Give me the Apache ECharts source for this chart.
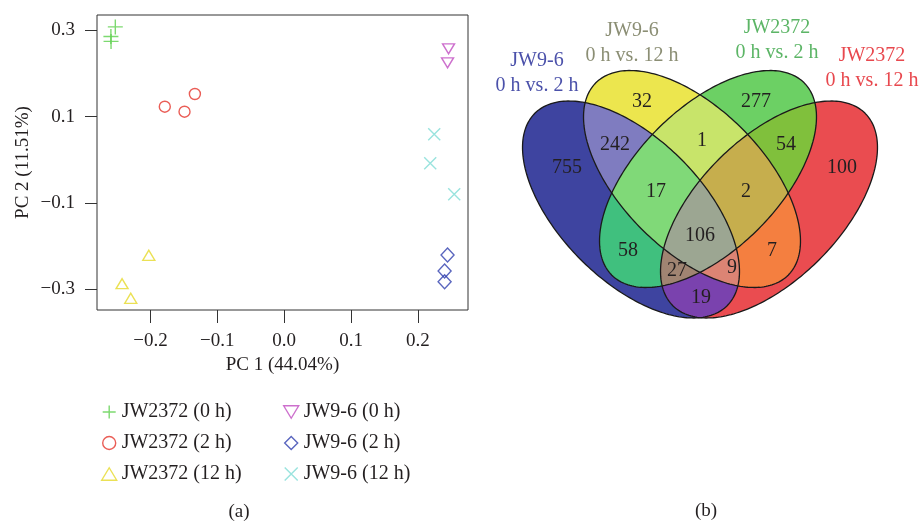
<!DOCTYPE html>
<html>
<head>
<meta charset="utf-8">
<script src="https://cdn.jsdelivr.net/npm/echarts@6/dist/echarts.min.js"></script>
<style>
    html, body { margin: 0; padding: 0; background: #fff; }
    #main { width: 921px; height: 521px; }
</style>
</head>
<body>
<div id="main"></div>
<script>
// ---- PCA scores (panel a) ----
var groupNames = ['JW2372 (0 h)', 'JW2372 (2 h)', 'JW2372 (12 h)', 'JW9-6 (0 h)', 'JW9-6 (2 h)', 'JW9-6 (12 h)'];
var pc1_jw2372_0h = [-0.2526, -0.2592, -0.2590];
var pc2_jw2372_0h = [0.3078, 0.2857, 0.2742];
var pc1_jw2372_2h = [-0.1786, -0.1491, -0.1336];
var pc2_jw2372_2h = [0.1230, 0.1114, 0.1524];
var pc1_jw2372_12h = [-0.2025, -0.2425, -0.2295];
var pc2_jw2372_12h = [-0.2212, -0.2870, -0.3208];
var pc1_jw96_0h = [0.2458, 0.2443];
var pc2_jw96_0h = [0.2571, 0.2247];
var pc1_jw96_2h = [0.2443, 0.2399, 0.2399];
var pc2_jw96_2h = [-0.2205, -0.2576, -0.2824];
var pc1_jw96_12h = [0.2244, 0.2184, 0.2543];
var pc2_jw96_12h = [0.0591, -0.0081, -0.0799];
var xTicks = [-0.2, -0.1, 0.0, 0.1, 0.2];
var yTicks = [-0.3, -0.1, 0.1, 0.3];

// ---- Venn (panel b) ----
var vennSetNames = ['JW9-6\n0 h vs. 2 h', 'JW9-6\n0 h vs. 12 h', 'JW2372\n0 h vs. 2 h', 'JW2372\n0 h vs. 12 h'];
// region = which sets (0..3) it belongs to; ordered from 1 set up to 4 sets
var vennRegionSets = [[0], [1], [2], [3], [0, 1], [1, 2], [2, 3], [0, 2], [1, 3], [0, 3],
    [0, 1, 2], [1, 2, 3], [0, 2, 3], [0, 1, 3], [0, 1, 2, 3]];
var vennCounts = [755, 32, 277, 100, 242, 1, 54, 58, 7, 19, 17, 2, 27, 9, 106];

// layout / style
var SERIF = 'Liberation Serif';
var INK = '#231f20';
var pcaColors = ['#5ccf4c', '#e5352c', '#e6da2a', '#c04cc0', '#2f3fae', '#80dcd6'];
var pcaSymbols = ['path://M0,6H12M6,0V12', 'circle', 'triangle', 'triangle', 'diamond', 'path://M0,0L10,10M10,0L0,10'];
var pcaSizes = [15, 11, [12, 10], [12, 10], [13, 14], 12];
var pcaRotate = [0, 0, 0, 180, 0, 0];
var legendIcons = ['path://M0,6H12M6,0V12', 'circle', 'path://M6,0L12,10L0,10Z', 'path://M0,0L12,0L6,10Z',
    'path://M6,0L12,6L6,12L0,6Z', 'path://M0,0L10,10M10,0L0,10'];

var ellipses = [
    {cx: 631, cy: 209.5, a: 136, b: 71, rot: 45},
    {cx: 692, cy: 179, a: 136, b: 71, rot: 45},
    {cx: 708, cy: 179, a: 136, b: 71, rot: -45},
    {cx: 769, cy: 209.5, a: 136, b: 71, rot: -45}
];
var regionColors = ['#3e44a0', '#ece64e', '#6cd064', '#ea4c50', '#7f7cc0', '#c8e46a', '#80c03c', '#40c07e',
    '#f47f40', '#7a42ae', '#80d978', '#c6ae4d', '#a08472', '#dc8474', '#9ca692'];
var regionLabelPos = [[567, 168], [642, 102], [756, 102], [842, 168], [615, 145], [702, 141], [786, 145],
    [628, 251], [772, 251], [701, 298], [656, 192], [746, 192], [677, 271], [732, 268], [700, 236]];
var setLabelPos = [[537, 73], [632, 43], [777, 40], [872, 68]];
var setLabelColors = ['#4b51aa', '#8b8e74', '#5cb566', '#e8484e'];

function fmt(v) {
    return v.toFixed(1).replace('-', '\u2212');
}

function ellipsePoints(e, n) {
    var pts = [], r = e.rot * Math.PI / 180, c = Math.cos(r), s = Math.sin(r);
    for (var i = 0; i < n; i++) {
        var t = 2 * Math.PI * i / n;
        var x = e.a * Math.cos(t), y = e.b * Math.sin(t);
        pts.push([e.cx + x * c - y * s, e.cy + x * s + y * c]);
    }
    return pts;
}

function area(p) {
    var s = 0;
    for (var i = 0; i < p.length; i++) {
        var q = p[(i + 1) % p.length];
        s += p[i][0] * q[1] - q[0] * p[i][1];
    }
    return s;
}

function side(a, b, p) {
    return (b[0] - a[0]) * (p[1] - a[1]) - (b[1] - a[1]) * (p[0] - a[0]);
}

function cross(a, b, p, q) {
    var d1 = side(a, b, p), d2 = side(a, b, q);
    var t = d1 / (d1 - d2);
    return [p[0] + (q[0] - p[0]) * t, p[1] + (q[1] - p[1]) * t];
}

// clip a polygon by a convex polygon (Sutherland-Hodgman)
function clip(subject, clipPoly) {
    var sign = area(clipPoly) > 0 ? 1 : -1;
    var out = subject;
    for (var i = 0; i < clipPoly.length && out.length; i++) {
        var a = clipPoly[i], b = clipPoly[(i + 1) % clipPoly.length];
        var input = out;
        out = [];
        for (var j = 0; j < input.length; j++) {
            var p = input[j], q = input[(j + 1) % input.length];
            var pin = side(a, b, p) * sign >= 0, qin = side(a, b, q) * sign >= 0;
            if (pin) {
                out.push(p);
                if (!qin) out.push(cross(a, b, p, q));
            } else if (qin) {
                out.push(cross(a, b, p, q));
            }
        }
    }
    return out;
}

var ellipsePolys = ellipses.map(function (e) { return ellipsePoints(e, 240); });

// region polygons: intersection of its sets; drawn small sets first, larger on top
var regionPolys = vennRegionSets.map(function (sets) {
    var poly = ellipsePolys[sets[0]];
    for (var k = 1; k < sets.length; k++) {
        poly = clip(poly, ellipsePolys[sets[k]]);
    }
    return poly;
});

var pcaX = [pc1_jw2372_0h, pc1_jw2372_2h, pc1_jw2372_12h, pc1_jw96_0h, pc1_jw96_2h, pc1_jw96_12h];
var pcaY = [pc2_jw2372_0h, pc2_jw2372_2h, pc2_jw2372_12h, pc2_jw96_0h, pc2_jw96_2h, pc2_jw96_12h];

var series = [];
for (var g = 0; g < groupNames.length; g++) {
    var pts = [];
    for (var k = 0; k < pcaX[g].length; k++) {
        pts.push([pcaX[g][k], pcaY[g][k]]);
    }
    series.push({
        name: groupNames[g],
        type: 'scatter',
        xAxisIndex: 0,
        yAxisIndex: 0,
        data: pts,
        symbol: pcaSymbols[g],
        symbolSize: pcaSizes[g],
        symbolRotate: pcaRotate[g],
        itemStyle: {
            color: 'rgba(0,0,0,0)',
            borderColor: pcaColors[g],
            borderWidth: 1.4
        },
        emphasis: {disabled: true}
    });
}

// venn fills
series.push({
    type: 'custom',
    xAxisIndex: 1,
    yAxisIndex: 1,
    silent: true,
    data: vennCounts.map(function (v, i) { return [regionLabelPos[i][0], regionLabelPos[i][1], v]; }),
    renderItem: function (params, api) {
        var poly = regionPolys[params.dataIndex].map(function (p) { return api.coord(p); });
        return {
            type: 'polygon',
            shape: {points: poly},
            style: {fill: regionColors[params.dataIndex], stroke: null}
        };
    }
});

// venn outlines
series.push({
    type: 'custom',
    xAxisIndex: 1,
    yAxisIndex: 1,
    silent: true,
    data: ellipses.map(function (e) { return [e.cx, e.cy]; }),
    renderItem: function (params, api) {
        var poly = ellipsePolys[params.dataIndex].map(function (p) { return api.coord(p); });
        return {
            type: 'polygon',
            shape: {points: poly},
            style: {fill: null, stroke: '#1a1a1a', lineWidth: 1.3}
        };
    }
});

// venn counts
series.push({
    type: 'custom',
    xAxisIndex: 1,
    yAxisIndex: 1,
    silent: true,
    data: vennCounts.map(function (v, i) { return [regionLabelPos[i][0], regionLabelPos[i][1], v]; }),
    renderItem: function (params, api) {
        var c = api.coord([api.value(0), api.value(1)]);
        return {
            type: 'text',
            x: c[0],
            y: c[1],
            style: {
                text: String(api.value(2)),
                fill: INK,
                font: '20px "' + SERIF + '"',
                align: 'center',
                verticalAlign: 'middle'
            }
        };
    }
});

var graphics = [];
for (var s = 0; s < vennSetNames.length; s++) {
    graphics.push({
        type: 'text',
        x: setLabelPos[s][0],
        y: setLabelPos[s][1],
        style: {
            text: vennSetNames[s],
            fill: setLabelColors[s],
            font: '20px "' + SERIF + '"',
            lineHeight: 25,
            align: 'center',
            verticalAlign: 'middle'
        }
    });
}
graphics.push({type: 'text', x: 239, y: 512, style: {text: '(a)', fill: INK, font: '19px "' + SERIF + '"', align: 'center', verticalAlign: 'middle'}});
graphics.push({type: 'text', x: 706, y: 511, style: {text: '(b)', fill: INK, font: '19px "' + SERIF + '"', align: 'center', verticalAlign: 'middle'}});

var legendText = {color: INK, fontFamily: SERIF, fontSize: 20, lineHeight: 20};

function legendData(from, to) {
    var out = [];
    for (var i = from; i < to; i++) {
        out.push({name: groupNames[i], icon: legendIcons[i]});
    }
    return out;
}

var option = {
    animation: false,
    backgroundColor: '#fff',
    textStyle: {fontFamily: SERIF},
    grid: [
        {left: 97, top: 15, width: 371, height: 295, show: true, borderColor: '#333', borderWidth: 1,
            backgroundColor: 'transparent', outerBoundsMode: 'none'},
        {left: 480, top: 0, width: 441, height: 521, outerBoundsMode: 'none'}
    ],
    xAxis: [
        {
            type: 'value', gridIndex: 0, min: -0.280, max: 0.2749,
            name: 'PC 1 (44.04%)', nameLocation: 'middle', nameGap: 43,
            nameTextStyle: {color: INK, fontSize: 19, fontFamily: SERIF},
            axisLine: {show: false, onZero: false},
            axisTick: {show: true, length: 13, customValues: xTicks, lineStyle: {color: '#333', width: 1}},
            axisLabel: {customValues: xTicks, formatter: fmt, margin: 22, color: INK, fontSize: 19, fontFamily: SERIF},
            splitLine: {show: false}
        },
        {type: 'value', gridIndex: 1, min: 480, max: 921, show: false}
    ],
    yAxis: [
        {
            type: 'value', gridIndex: 0, min: -0.3479, max: 0.3354,
            name: 'PC 2 (11.51%)', nameLocation: 'middle', nameGap: 64,
            nameTextStyle: {color: INK, fontSize: 19, fontFamily: SERIF},
            axisLine: {show: false, onZero: false},
            axisTick: {show: true, length: 12, customValues: yTicks, lineStyle: {color: '#333', width: 1}},
            axisLabel: {customValues: yTicks, formatter: fmt, margin: 22, color: INK, fontSize: 19, fontFamily: SERIF},
            splitLine: {show: false}
        },
        {type: 'value', gridIndex: 1, min: 0, max: 521, inverse: true, show: false}
    ],
    legend: [
        {
            data: legendData(0, 3), orient: 'vertical', left: 101, top: 402, padding: 0,
            itemWidth: 15, itemHeight: 13, itemGap: 11, textStyle: legendText,
            itemStyle: {borderWidth: 1.4}, selectedMode: false
        },
        {
            data: legendData(3, 6), orient: 'vertical', left: 283, top: 402, padding: 0,
            itemWidth: 15, itemHeight: 13, itemGap: 11, textStyle: legendText,
            itemStyle: {borderWidth: 1.4}, selectedMode: false
        }
    ],
    graphic: graphics,
    series: series
};

var chart = echarts.init(document.getElementById('main'));
chart.setOption(option);
</script>
</body>
</html>
